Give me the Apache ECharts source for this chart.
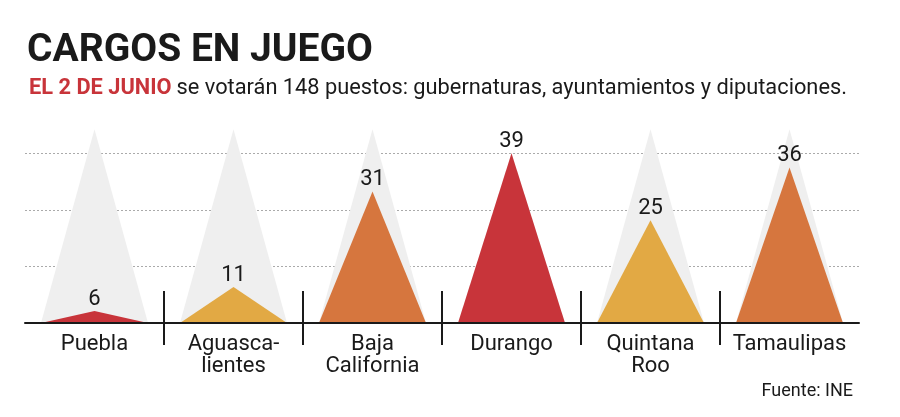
<!DOCTYPE html>
<html>
<head>
<meta charset="utf-8">
<script src="https://cdn.jsdelivr.net/npm/echarts@6/dist/echarts.min.js"></script>
<style>
html,body{margin:0;padding:0;background:#fff;}
#chart{width:900px;height:417px;}
</style>
</head>
<body>
<div id="chart"></div>
<script>
const categories = ['Puebla', 'Aguasca-\nlientes', 'Baja\nCalifornia', 'Durango', 'Quintana\nRoo', 'Tamaulipas'];
const values = [6, 11, 31, 39, 25, 36];
const backgroundValues = [44, 44, 44, 39, 44, 44];
const barColors = ['#c8343a', '#e2a944', '#d6763e', '#c8343a', '#e2a944', '#d6763e'];
const separatorPositions = [1, 2, 3, 4, 5];

const chart = echarts.init(document.getElementById('chart'));
const FONT = 'Roboto';

function triangle(withLabel) {
  return function (params, api) {
    const idx = api.value(0);
    const v = api.value(1);
    const apex = api.coord([idx, v]);
    const cs = params.coordSys;
    const base = cs.y + cs.height;
    const w = api.size([1, 0])[0] * 0.77;
    const el = {
      type: 'polygon',
      shape: { points: [[apex[0] - w / 2, base], [apex[0], apex[1]], [apex[0] + w / 2, base]] },
      style: { fill: api.visual('color') }
    };
    if (withLabel) {
      el.textContent = {
        type: 'text',
        style: { text: String(v), fontFamily: FONT, fontSize: 22, fill: '#1a1a1a' }
      };
      el.textConfig = { position: 'top', distance: 1 };
    }
    return el;
  };
}

chart.setOption({
  backgroundColor: '#fff',
  animation: false,
  title: [
    {
      text: 'CARGOS EN JUEGO',
      left: 22, top: 26,
      textStyle: { fontFamily: FONT, fontWeight: 'bold', fontSize: 39, color: '#1a1a1a', lineHeight: 40 }
    },
    {
      text: '{r|EL 2 DE JUNIO} {n|se votarán 148 puestos: gubernaturas, ayuntamientos y diputaciones.}',
      left: 24, top: 73,
      textStyle: {
        rich: {
          r: { fontFamily: FONT, fontWeight: 'bold', fontSize: 21.8, color: '#c8343a' },
          n: { fontFamily: FONT, fontWeight: 'normal', fontSize: 21.8, color: '#1a1a1a' }
        }
      }
    },
    {
      text: 'Fuente: INE',
      right: 42, top: 377,
      textStyle: { fontFamily: FONT, fontWeight: 'normal', fontSize: 18, color: '#1a1a1a' }
    }
  ],
  grid: { left: 25, right: 41, top: 96.7, bottom: 94, containLabel: false },
  xAxis: [
    {
      type: 'category',
      data: categories,
      boundaryGap: true,
      axisLine: { show: true, lineStyle: { color: '#1a1a1a', width: 2 } },
      axisTick: { show: false },
      axisLabel: { fontFamily: FONT, fontSize: 22, color: '#1a1a1a', lineHeight: 22, margin: 10, interval: 0 },
      z: 5
    },
    {
      type: 'value', min: 0, max: 6, position: 'bottom',
      axisLine: { show: false }, axisLabel: { show: false }, splitLine: { show: false },
      axisTick: { show: true, inside: true, length: 32, customValues: separatorPositions, lineStyle: { color: '#1a1a1a', width: 2 } }
    },
    {
      type: 'value', min: 0, max: 6, position: 'bottom',
      axisLine: { show: false }, axisLabel: { show: false }, splitLine: { show: false },
      axisTick: { show: true, inside: false, length: 22, customValues: separatorPositions, lineStyle: { color: '#1a1a1a', width: 2 } }
    }
  ],
  yAxis: [
    { type: 'value', min: 3.5, max: 50.8, show: false, splitLine: { show: false } },
    {
      type: 'value', min: 0, max: 52, interval: 13,
      axisLine: { show: false }, axisLabel: { show: false }, axisTick: { show: false },
      splitLine: { show: true, showMinLine: false, showMaxLine: false, lineStyle: { color: '#aaaaaa', type: [2, 2], width: 1 } }
    }
  ],
  series: [
    {
      type: 'custom',
      xAxisIndex: 0, yAxisIndex: 0,
      renderItem: triangle(false),
      itemStyle: { color: '#efefef' },
      z: 1,
      data: backgroundValues.map((v, i) => [i, v])
    },
    {
      type: 'custom',
      xAxisIndex: 0, yAxisIndex: 0,
      renderItem: triangle(true),
      z: 3,
      data: values.map((v, i) => ({ value: [i, v], itemStyle: { color: barColors[i] } }))
    }
  ]
});
</script>
</body>
</html>
